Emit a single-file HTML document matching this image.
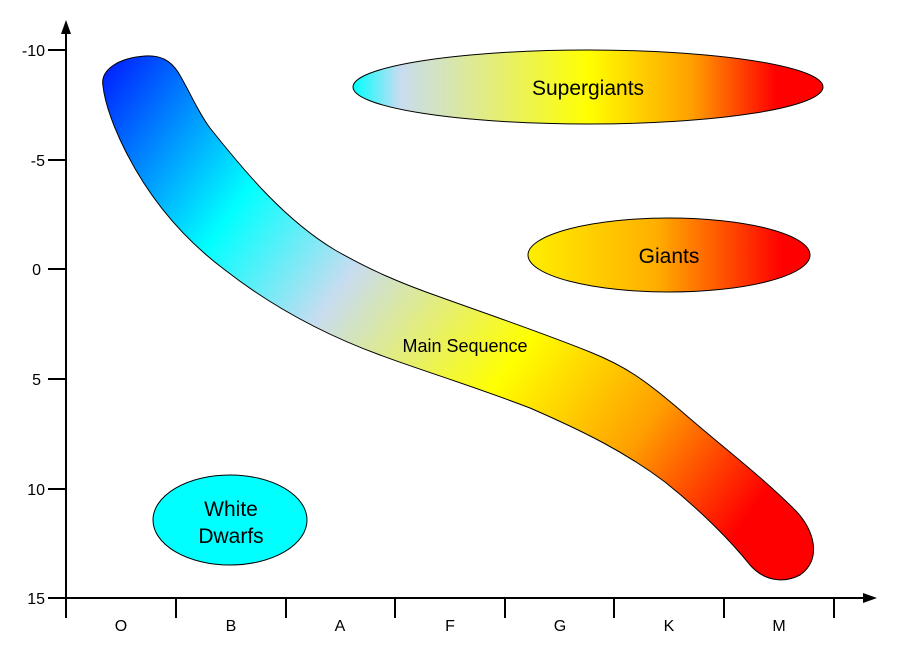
<!DOCTYPE html>
<html><head><style>body{margin:0;background:#fff}svg{display:block}</style></head><body>
<svg width="898" height="659" viewBox="0 0 898 659" font-family="Liberation Sans, sans-serif">
<defs>
<linearGradient id="ms" gradientUnits="userSpaceOnUse" x1="100" y1="60" x2="790" y2="560">
<stop offset="0" stop-color="#0018ff"/><stop offset="0.23" stop-color="#00ffff"/><stop offset="0.385" stop-color="#c8dcf0"/><stop offset="0.6" stop-color="#ffff00"/><stop offset="0.77" stop-color="#ffa000"/><stop offset="0.93" stop-color="#ff0000"/><stop offset="1" stop-color="#ff0000"/></linearGradient>
<linearGradient id="sg" x1="0" y1="0" x2="1" y2="0">
<stop offset="0" stop-color="#00ffff"/><stop offset="0.1" stop-color="#c8dcf0"/><stop offset="0.5" stop-color="#ffff00"/><stop offset="0.72" stop-color="#ffa000"/><stop offset="0.9" stop-color="#ff0000"/><stop offset="1" stop-color="#ff0000"/></linearGradient>
<linearGradient id="gi" x1="0" y1="0" x2="1" y2="0">
<stop offset="0" stop-color="#ffee00"/><stop offset="0.45" stop-color="#ffb000"/><stop offset="0.9" stop-color="#ff0000"/><stop offset="1" stop-color="#ff0000"/></linearGradient>
</defs>
<path d="M103,86 C100,70 118,58 145,56 C160,55 170,60 178,72 C190,92 198,112 210,128 C245,172 285,220 335,250 C370,270 400,283 440,297 C490,315 540,332 590,352 C625,366 645,380 680,410 C720,445 760,475 795,510 C815,530 822,560 800,575 C785,583 765,582 750,565 C730,540 700,510 665,482 C625,452 585,432 530,408 C470,385 420,370 380,355 C320,333 270,305 225,270 C185,240 150,200 125,150 C115,130 105,105 103,86 Z" fill="url(#ms)" stroke="#000" stroke-width="1"/>
<ellipse cx="588" cy="87" rx="235" ry="37" fill="url(#sg)" stroke="#000"/>
<ellipse cx="669" cy="255" rx="141" ry="37" fill="url(#gi)" stroke="#000"/>
<ellipse cx="230" cy="520" rx="77" ry="45" fill="#00ffff" stroke="#000"/>
<g text-anchor="middle" fill="#000">
<text x="588" y="95" font-size="21">Supergiants</text>
<text x="669" y="263" font-size="21">Giants</text>
<text x="465" y="352" font-size="18">Main Sequence</text>
<text x="231" y="516" font-size="21">White</text>
<text x="231" y="543" font-size="21">Dwarfs</text>
</g>
<g stroke="#000" stroke-width="2">
<line x1="66" y1="30" x2="66" y2="618"/>
<line x1="48" y1="598" x2="866" y2="598"/>
<line x1="48" y1="50" x2="66" y2="50"/><line x1="48" y1="160" x2="66" y2="160"/><line x1="48" y1="269" x2="66" y2="269"/><line x1="48" y1="379" x2="66" y2="379"/><line x1="48" y1="489" x2="66" y2="489"/>
<line x1="176" y1="598" x2="176" y2="618"/><line x1="286" y1="598" x2="286" y2="618"/><line x1="395" y1="598" x2="395" y2="618"/><line x1="505" y1="598" x2="505" y2="618"/><line x1="614" y1="598" x2="614" y2="618"/><line x1="724" y1="598" x2="724" y2="618"/><line x1="834" y1="598" x2="834" y2="618"/>
</g>
<polygon points="66,20 61,34 71,34" fill="#000"/>
<polygon points="877,598 863,593 863,603" fill="#000"/>
<g font-size="16" text-anchor="end">
<text x="45" y="56">-10</text><text x="45" y="166">-5</text><text x="41" y="275">0</text><text x="41" y="385">5</text><text x="45" y="495">10</text><text x="45" y="604">15</text>
</g>
<g font-size="16" text-anchor="middle">
<text x="121" y="631">O</text><text x="231" y="631">B</text><text x="340" y="631">A</text><text x="450" y="631">F</text><text x="560" y="631">G</text><text x="669" y="631">K</text><text x="779" y="631">M</text>
</g>
</svg>
</body></html>
